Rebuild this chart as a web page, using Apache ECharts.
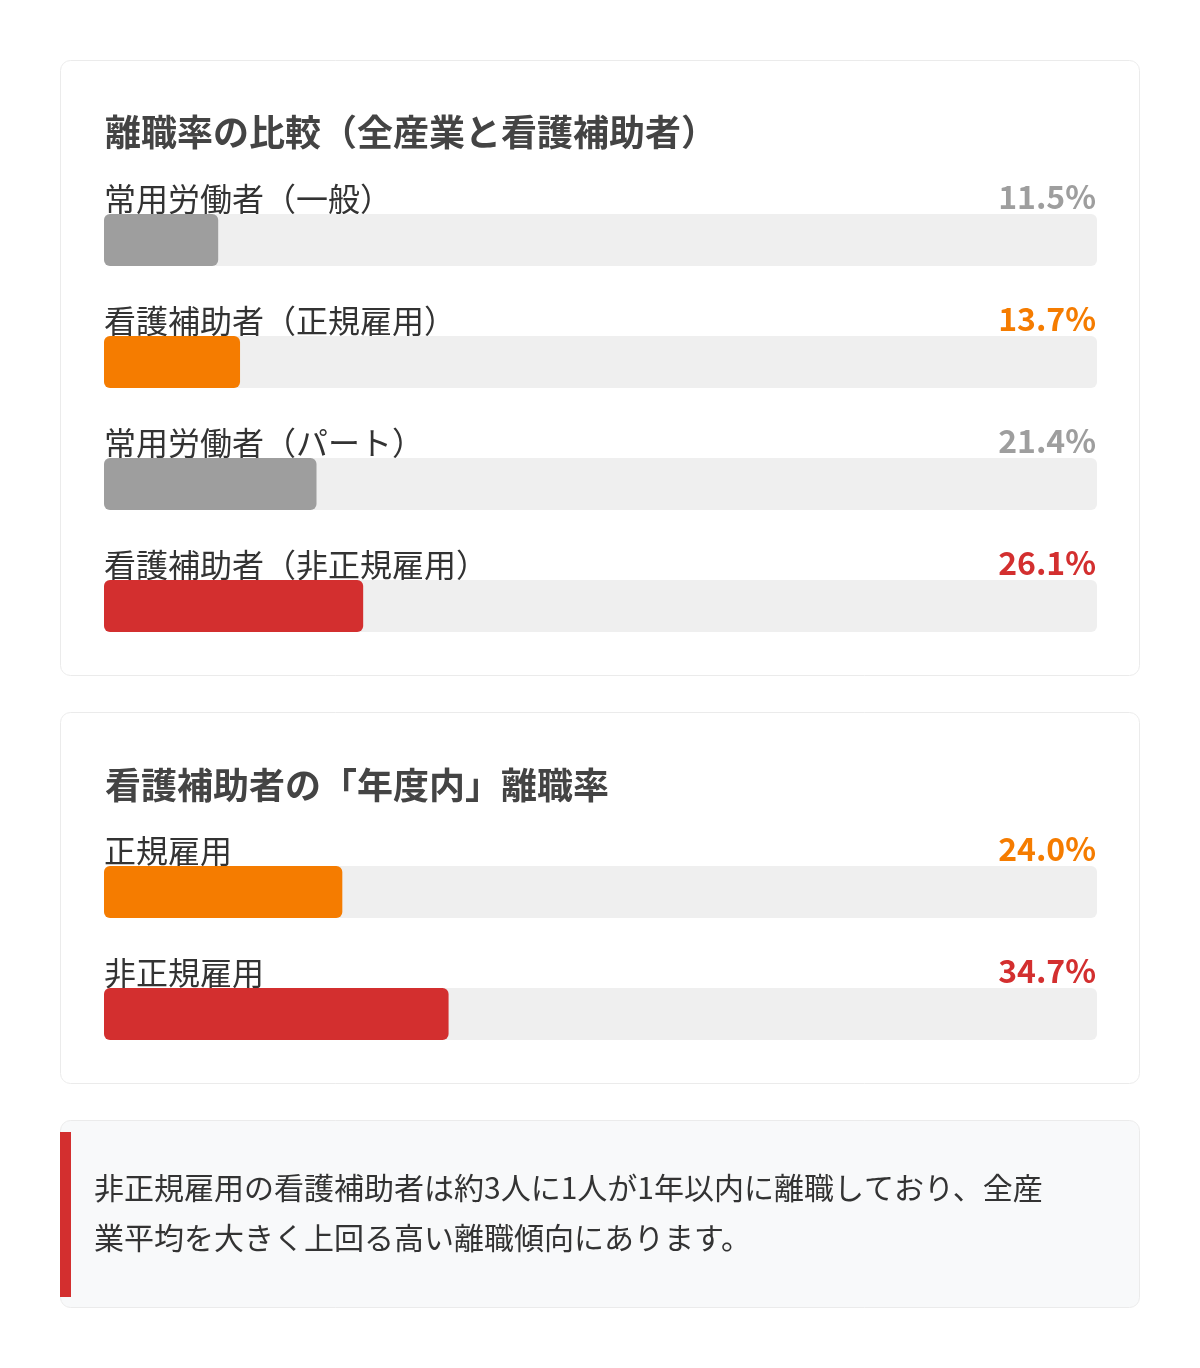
<!DOCTYPE html>
<html><head><meta charset="utf-8">
<script src="https://cdn.jsdelivr.net/npm/echarts@6/dist/echarts.min.js"></script>
<style>html,body{margin:0;padding:0;background:#fff}#c{width:1200px;height:1368px}</style>
</head><body><div id="c"></div>
<script>
const title1 = '離職率の比較（全産業と看護補助者）';
const cats1 = ['常用労働者（一般）', '看護補助者（正規雇用）', '常用労働者（パート）', '看護補助者（非正規雇用）'];
const vals1 = [11.5, 13.7, 21.4, 26.1];
const kinds1 = ['gray', 'orange', 'gray', 'red'];
const title2 = '看護補助者の「年度内」離職率';
const cats2 = ['正規雇用', '非正規雇用'];
const vals2 = [24.0, 34.7];
const kinds2 = ['orange', 'red'];
const noteText = '非正規雇用の看護補助者は約3人に1人が1年以内に離職しており、全産業平均を大きく上回る高い離職傾向にあります。';

const palette = { gray: '#9e9e9e', orange: '#f57c00', red: '#d32f2f' };
const FONT = '"Noto Sans CJK JP", "Noto Sans", sans-serif';

function fmt(v) { return v.toFixed(1) + '%'; }

function axesFor(gi, cats, vals, kinds) {
  const left = {
    type: 'category', gridIndex: gi, data: cats, inverse: true, position: 'left',
    axisLine: { show: false }, axisTick: { show: false }, splitLine: { show: false },
    axisLabel: {
      inside: true, margin: 0, align: 'left', verticalAlign: 'bottom',
      padding: [0, 0, 25, 0], fontSize: 32, color: '#333', fontFamily: FONT, lineHeight: 32
    }
  };
  const right = {
    type: 'category', gridIndex: gi, data: vals.map(fmt), inverse: true, position: 'right',
    axisLine: { show: false }, axisTick: { show: false }, splitLine: { show: false },
    axisLabel: {
      inside: true, margin: 1, align: 'right', verticalAlign: 'bottom',
      padding: [0, 0, 27, 0], fontSize: 32, fontWeight: 'bold', fontFamily: FONT, lineHeight: 32,
      color: (val, idx) => palette[kinds[idx]]
    }
  };
  return [left, right];
}

function seriesFor(gi, yi, vals, kinds) {
  return {
    type: 'bar', xAxisIndex: gi, yAxisIndex: yi, barWidth: 52,
    data: vals.map((v, i) => ({ value: v, itemStyle: { color: palette[kinds[i]], borderRadius: 6 } })),
    showBackground: true,
    backgroundStyle: { color: '#efefef', borderRadius: 6 },
    silent: true, animation: false
  };
}

const y1 = axesFor(0, cats1, vals1, kinds1);
const y2 = axesFor(1, cats2, vals2, kinds2);

const option = {
  animation: false,
  textStyle: { fontFamily: FONT },
  title: [
    { text: title1, left: 100, top: 109, textStyle: { fontSize: 36, fontWeight: 'bold', color: '#444', fontFamily: FONT } },
    { text: title2, left: 100, top: 762, textStyle: { fontSize: 36, fontWeight: 'bold', color: '#444', fontFamily: FONT } }
  ],
  grid: [
    { left: 104, right: 103, top: 179, height: 488 },
    { left: 104, right: 103, top: 831, height: 244 }
  ],
  xAxis: [
    { type: 'value', gridIndex: 0, min: 0, max: 100, show: false },
    { type: 'value', gridIndex: 1, min: 0, max: 100, show: false }
  ],
  yAxis: [y1[0], y1[1], y2[0], y2[1]],
  series: [seriesFor(0, 0, vals1, kinds1), seriesFor(1, 2, vals2, kinds2)],
  graphic: [
    { type: 'rect', z: -10, shape: { x: 60.5, y: 60.5, width: 1079, height: 615, r: 10 }, style: { fill: '#fff', stroke: '#ebebeb', lineWidth: 1 } },
    { type: 'rect', z: -10, shape: { x: 60.5, y: 712.5, width: 1079, height: 371, r: 10 }, style: { fill: '#fff', stroke: '#ebebeb', lineWidth: 1 } },
    { type: 'rect', z: -10, shape: { x: 60.5, y: 1120.5, width: 1079, height: 187, r: 10 }, style: { fill: '#f8f9fa', stroke: '#ebebeb', lineWidth: 1 } },
    { type: 'rect', z: -5, shape: { x: 60, y: 1132, width: 11, height: 165 }, style: { fill: '#d32f2f' } },
    { type: 'text', z: 5, left: 94, top: 1163, style: { text: noteText, width: 962, overflow: 'break', fontSize: 30, lineHeight: 50, fill: '#333', fontFamily: FONT } }
  ]
};

const chart = echarts.init(document.getElementById('c'), null, { renderer: 'canvas' });
chart.setOption(option);
</script>
</body></html>
